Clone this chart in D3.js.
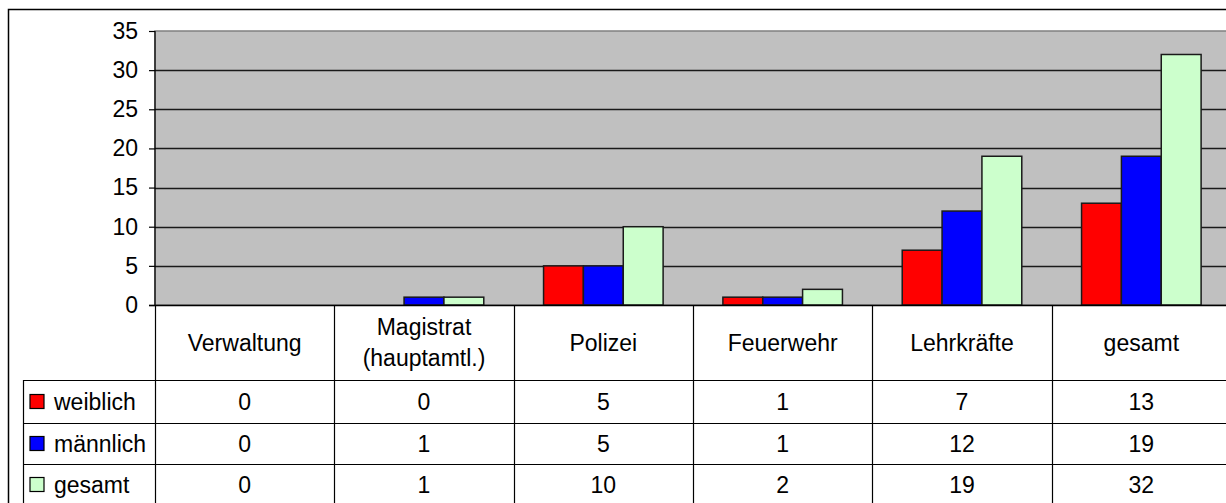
<!DOCTYPE html>
<html lang="de">
  <head>
    <meta charset="utf-8">
    <script src="https://cdn.jsdelivr.net/npm/d3@7"></script>
    <style>
      body {
        margin: 0;
        background: #fff;
      }
      svg {
        display: block;
        font-family: Arial, 'Liberation Sans', sans-serif;
        font-size: 23px;
      }
    </style>
  </head>
  <body>
    <svg></svg>
  </body>
  <script>

    // Data
    const categories = ['Verwaltung', 'Magistrat\n(hauptamtl.)', 'Polizei', 'Feuerwehr', 'Lehrkräfte', 'gesamt'];
    const seriesNames = ['weiblich', 'männlich', 'gesamt'];
    const weiblich = [0, 0, 5, 1, 7, 13];
    const maennlich = [0, 1, 5, 1, 12, 19];
    const gesamt = [0, 1, 10, 2, 19, 32];
    const yTicks = [0, 5, 10, 15, 20, 25, 30, 35];
    const seriesColors = ['#ff0000', '#0000ff', '#ccffcc'];

    const seriesValues = [weiblich, maennlich, gesamt];

    // Layout
    const width = 1226;
    const height = 503;
    const plot = { left: 155, right: 1231, top: 31, bottom: 305 };
    const table = { legendLeft: 23, rows: [305, 380, 423, 464, 505] };

    const svg = d3.select('svg')
        .attr('width', width)
        .attr('height', height);

    // Outer frame (runs off the right and bottom edge)
    svg.append('rect')
        .attr('x', 8.5)
        .attr('y', 9.5)
        .attr('width', width + 20)
        .attr('height', height + 20)
        .attr('fill', '#fff')
        .attr('stroke', '#000')
        .attr('stroke-width', 1.5);

    // Scales
    const x0 = d3.scaleBand()
        .domain(d3.range(categories.length))
        .range([plot.left, plot.right]);

    const x1 = d3.scaleBand()
        .domain(seriesNames)
        .range([0, x0.bandwidth()])
        .paddingOuter(0.75);

    const y = d3.scaleLinear()
        .domain([0, 35])
        .range([plot.bottom, plot.top]);

    // Plot background
    svg.append('rect')
        .attr('x', plot.left)
        .attr('y', plot.top)
        .attr('width', plot.right - plot.left)
        .attr('height', plot.bottom - plot.top)
        .attr('fill', '#c0c0c0')
        .attr('stroke', '#808080')
        .attr('stroke-width', 1.5);

    // Gridlines
    svg.append('g')
      .selectAll('line')
        .data(yTicks.filter(d => d > 0 && d < 35))
      .enter().append('line')
        .attr('x1', plot.left)
        .attr('x2', plot.right)
        .attr('y1', d => Math.round(y(d)) + 0.5)
        .attr('y2', d => Math.round(y(d)) + 0.5)
        .attr('stroke', '#1a1a1a')
        .attr('stroke-width', 1.4);

    // Y axis
    const yAxis = svg.append('g')
        .attr('transform', 'translate(' + plot.left + ',0)')
        .call(d3.axisLeft(y).tickValues(yTicks).tickSize(6).tickPadding(11));
    yAxis.select('.domain').remove();
    yAxis.selectAll('.tick line').attr('stroke', '#000').attr('stroke-width', 1.2);
    yAxis.selectAll('.tick text')
        .attr('font-size', 23)
        .attr('font-family', 'Arial, Liberation Sans, sans-serif')
        .attr('fill', '#000');
    yAxis.append('line')
        .attr('y1', plot.top)
        .attr('y2', plot.bottom)
        .attr('stroke', '#000')
        .attr('stroke-width', 1.2);

    // Bars
    const groups = svg.append('g')
      .selectAll('g')
        .data(categories.map((c, i) => i))
      .enter().append('g')
        .attr('transform', i => 'translate(' + x0(i) + ',0)');

    groups.selectAll('rect')
        .data(i => seriesNames.map((s, k) => ({ key: s, k: k, value: seriesValues[k][i] }))
          .filter(d => d.value > 0))
      .enter().append('rect')
        .attr('x', d => x1(d.key))
        .attr('y', d => y(d.value))
        .attr('width', x1.bandwidth())
        .attr('height', d => y(0) - y(d.value))
        .attr('fill', d => seriesColors[d.k])
        .attr('stroke', '#1a1a1a')
        .attr('stroke-width', 1.5);

    // Axis baseline
    svg.append('line')
        .attr('x1', plot.left - 6)
        .attr('x2', plot.right)
        .attr('y1', plot.bottom + 0.5)
        .attr('y2', plot.bottom + 0.5)
        .attr('stroke', '#000')
        .attr('stroke-width', 1.5);

    // Data table
    const rows = table.rows;
    const tbl = svg.append('g')
        .attr('stroke', '#000')
        .attr('stroke-width', 1.2);

    // horizontal lines
    rows.slice(1, 4).forEach(r => {
      tbl.append('line')
          .attr('x1', table.legendLeft)
          .attr('x2', plot.right)
          .attr('y1', r + 0.5)
          .attr('y2', r + 0.5);
    });

    // vertical lines
    d3.range(categories.length + 1).forEach(i => {
      const xv = i < categories.length ? x0(i) : plot.right;
      tbl.append('line')
          .attr('x1', Math.round(xv) + 0.5)
          .attr('x2', Math.round(xv) + 0.5)
          .attr('y1', rows[0])
          .attr('y2', rows[4]);
    });
    tbl.append('line')
        .attr('x1', table.legendLeft + 0.5)
        .attr('x2', table.legendLeft + 0.5)
        .attr('y1', rows[1])
        .attr('y2', rows[4]);

    // category header
    const header = svg.append('g');
    categories.forEach((c, i) => {
      const lines = c.split('\n');
      const cx = x0(i) + x0.bandwidth() / 2;
      const cy = (rows[0] + rows[1]) / 2;
      const t = header.append('text')
          .attr('text-anchor', 'middle')
          .attr('fill', '#000');
      lines.forEach((l, j) => {
        t.append('tspan')
            .attr('x', cx)
            .attr('y', cy + 8 + (j - (lines.length - 1) / 2) * 31)
            .text(l);
      });
    });

    // legend keys and values
    seriesNames.forEach((s, k) => {
      const top = rows[k + 1];
      const bottom = rows[k + 2];
      const cy = (top + bottom) / 2;

      svg.append('rect')
          .attr('x', 30)
          .attr('y', cy - 7)
          .attr('width', 14)
          .attr('height', 14)
          .attr('fill', seriesColors[k])
          .attr('stroke', '#000')
          .attr('stroke-width', 1.2);

      svg.append('text')
          .attr('x', 54)
          .attr('y', cy + 8)
          .attr('fill', '#000')
          .text(s);

      seriesValues[k].forEach((v, i) => {
        svg.append('text')
            .attr('x', x0(i) + x0.bandwidth() / 2)
            .attr('y', cy + 8)
            .attr('text-anchor', 'middle')
            .attr('fill', '#000')
            .text(v);
      });
    });
  </script>
</html>
